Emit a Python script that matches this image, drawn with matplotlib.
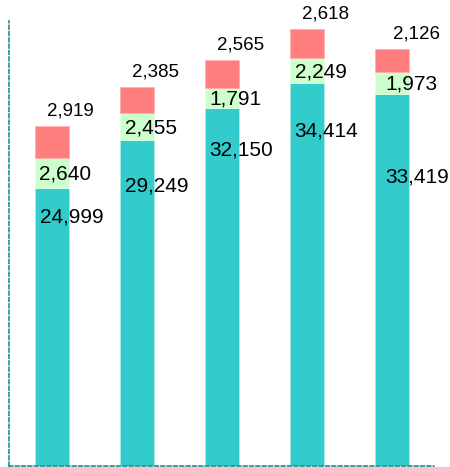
import matplotlib
matplotlib.use("Agg")
import matplotlib.pyplot as plt
import numpy as np

plt.rcParams['font.family'] = ['Liberation Sans', 'DejaVu Sans']

categories = ["A", "B", "C", "D", "E"]
base_vals = [24999, 29249, 32150, 34414, 33419]
mid_vals = [2640, 2455, 1791, 2249, 1973]
top_vals = [2919, 2385, 2565, 2618, 2126]

# layout tweaks for label placement (pixels)
base_label_drop = [29, 46, 42, 48, 83]
label_dx = [0, 0, 0, 0, 6]

DPI = 100
fig = plt.figure(figsize=(4.5, 4.67), dpi=DPI)
ax = fig.add_axes([9/450, 1.5/467, 425/450, 444.5/467])

x = np.arange(len(categories))
w = 0.4
base = np.array(base_vals)
mid = np.array(mid_vals)
top = np.array(top_vals)

ax.bar(x, base, w, color='#33CCCC', edgecolor='#a8eaea', linewidth=0.6)
ax.bar(x, mid, w, bottom=base, color='#CCFFCC', edgecolor='#e6ffe6', linewidth=0.6)
ax.bar(x, top, w, bottom=base + mid, color='#FF7F7F', edgecolor='#ffb0b0', linewidth=0.6)

ax.set_xlim(-0.5, 4.5)
ax.set_ylim(0, 40000)
ax.set_xticks([])
ax.set_yticks([])

for s in ['top', 'right']:
    ax.spines[s].set_visible(False)
for s in ['left', 'bottom']:
    ax.spines[s].set_color('#1f8f8f')
    ax.spines[s].set_linewidth(1.2)
    ax.spines[s].set_linestyle((0, (2.2, 1.6)))

pt = 72.0 / DPI
for i in range(len(categories)):
    dx = label_dx[i]
    ax.annotate(f"{base_vals[i]:,}", (x[i], base[i]), xytext=((20 + dx) * pt, -base_label_drop[i] * pt),
                textcoords='offset points', ha='center', va='center', fontsize=15, color='#000000')
    ax.annotate(f"{mid_vals[i]:,}", (x[i], base[i] + mid[i] / 2), xytext=((14 + dx) * pt, -1 * pt),
                textcoords='offset points', ha='center', va='center', fontsize=15, color='#000000')
    ax.annotate(f"{top_vals[i]:,}", (x[i], base[i] + mid[i] + top[i]), xytext=((19 + dx) * pt, 15 * pt),
                textcoords='offset points', ha='center', va='center', fontsize=13.5, color='#000000')

fig.savefig("out.png", dpi=DPI)
